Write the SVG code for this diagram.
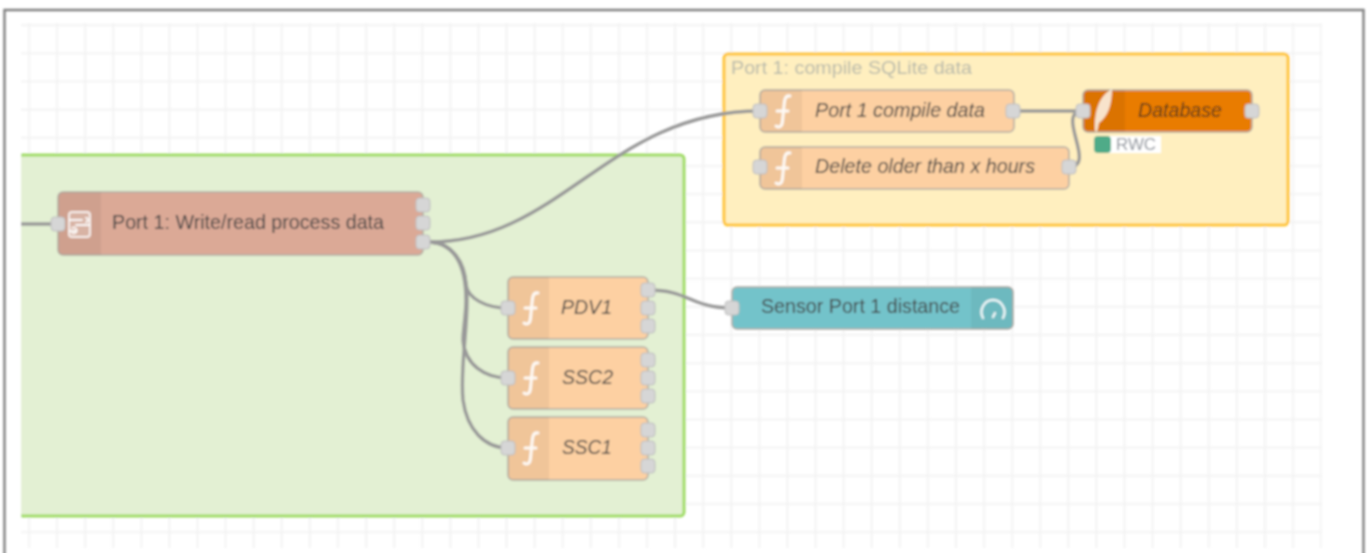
<svg xmlns="http://www.w3.org/2000/svg" width="1372" height="553" viewBox="0 0 1372 553">
<style>
.n{stroke:#b3aca4;stroke-width:1.5}
.h{fill:#000;fill-opacity:.05}
.p{fill:#d6d6d6;stroke:#bdbdbd;stroke-width:1}
.w{fill:none;stroke:#999;stroke-width:3.400}
.i{fill:none;stroke:#fff;stroke-opacity:.9;stroke-width:3;stroke-linecap:round}
text{font-family:"Liberation Sans",Arial,sans-serif;font-size:21px;fill:#444}
.f{font-style:italic}
</style>
<defs>
<pattern id="grid" patternUnits="userSpaceOnUse" x="15" y="11" width="28.09" height="28.17">
<path d="M14 0V28.17M0 14H28.09" stroke="#f3f3f3" stroke-width="2" fill="none"/>
</pattern>
<filter id="soft" filterUnits="userSpaceOnUse" x="0" y="0" width="1372" height="553"><feGaussianBlur stdDeviation="0.8"/></filter>
<path id="fn" d="M9 -15C4 -16 3.500 -11 3 -5L1.500 10C1 16 -2 17 -5 15M-4 0H7"/>
</defs>
<rect width="1372" height="553" fill="#fff"/>
<g filter="url(#soft)">
<path d="M4.500 560V10H1363.500V560" fill="none" stroke="#808080" stroke-width="2.400"/>
<rect x="21" y="23" width="1301" height="525" fill="url(#grid)"/>
<g id="group-green"><path d="M16 155H680a4 4 0 0 1 4 4V512a4 4 0 0 1-4 4H16Z" fill="#e3f0d3"/><path d="M21 155H680a4 4 0 0 1 4 4V512a4 4 0 0 1-4 4H21" fill="none" stroke="#9fdc62" stroke-width="3"/><rect x="12" y="150" width="9" height="372" fill="#fff"/></g>
<g id="group-yellow"><rect x="724" y="54" width="564" height="171" rx="4" fill="#ffefbf" stroke="#ffc433" stroke-width="3"/><text x="731" y="74" style="font-size:19px;fill:#b8b9aa" textLength="241" lengthAdjust="spacingAndGlyphs">Port 1: compile SQLite data</text></g>
<g id="connectors">
<path class="w" d="M21 224H58"/>
<path class="w" d="M430 242C560 242 610 111 760 111"/>
<path class="w" d="M430 242C452 243 465 262 466 285C468 298 485 308 508 308"/>
<path class="w" d="M430 242C452 243 466 262 466 300C466 315 463 330 463 340C465 365 485 378 508 378"/>
<path class="w" d="M430 242C452 243 467 262 467 300C467 335 460 370 463 400C467 430 485 448 508 448"/>
<path class="w" d="M648 290C690 290 690 308 732 308"/>
<path class="w" d="M1013 111H1083"/>
<path class="w" d="M1069 167C1098 167 1054 111 1083 111"/>
</g>
<g id="node-subflow"><rect class="n" x="58" y="192" width="365" height="63" rx="5" fill="#dba996"/><path class="h" d="M63 192H101V255H63a5 5 0 0 1-5-5V197a5 5 0 0 1 5-5Z"/><rect x="69" y="212" width="21" height="25" rx="3" fill="#fff" fill-opacity=".2" stroke="#fff" stroke-opacity=".8" stroke-width="2"/><path class="i" style="stroke-width:1.800" d="M70 220H82M86 218a2 2 0 1 1 0 4M76 225H89M70 231H76M72 228a3 3 0 1 1 0 5"/><text x="112" y="229" textLength="272" lengthAdjust="spacingAndGlyphs">Port 1: Write/read process data</text><rect class="p" x="51" y="217" width="14" height="14" rx="3.500"/><rect class="p" x="416" y="198" width="14" height="14" rx="3.500"/><rect class="p" x="416" y="216" width="14" height="14" rx="3.500"/><rect class="p" x="416" y="235" width="14" height="14" rx="3.500"/></g>
<g id="node-compile"><rect class="n" x="760" y="90" width="254" height="42" rx="5" fill="#fdd0a2"/><path class="h" d="M765 90H802V132H765a5 5 0 0 1-5-5V95a5 5 0 0 1 5-5Z"/><use href="#fn" class="i" x="781" y="111"/><text class="f" x="815" y="117" textLength="170" lengthAdjust="spacingAndGlyphs">Port 1 compile data</text><rect class="p" x="753" y="104" width="14" height="14" rx="3.500"/><rect class="p" x="1006" y="104" width="14" height="14" rx="3.500"/></g>
<g id="node-delete"><rect class="n" x="760" y="147" width="309" height="42" rx="5" fill="#fdd0a2"/><path class="h" d="M765 147H802V189H765a5 5 0 0 1-5-5V152a5 5 0 0 1 5-5Z"/><use href="#fn" class="i" x="781" y="168"/><text class="f" x="815" y="173" textLength="220" lengthAdjust="spacingAndGlyphs">Delete older than x hours</text><rect class="p" x="753" y="160" width="14" height="14" rx="3.500"/><rect class="p" x="1062" y="160" width="14" height="14" rx="3.500"/></g>
<g id="node-database"><rect class="n" x="1083" y="90" width="169" height="42" rx="5" fill="#e97b00"/><path class="h" d="M1088 90H1125V132H1088a5 5 0 0 1-5-5V95a5 5 0 0 1 5-5Z" style="fill-opacity:.06"/><path d="M1095 131C1094 110 1100 95 1112 89C1112 105 1108 116 1099 123L1097 132Z" fill="#fff" fill-opacity=".8"/><text class="f" x="1138" y="117" style="fill:#5a3a14" textLength="84" lengthAdjust="spacingAndGlyphs">Database</text><rect class="p" x="1076" y="104" width="14" height="14" rx="3.500"/><rect class="p" x="1245" y="104" width="14" height="14" rx="3.500"/><rect x="1108" y="136" width="53" height="17" fill="#fff"/><rect x="1094" y="136" width="17" height="17" rx="4" fill="#4fab88"/><text x="1116" y="150" style="font-size:16px;fill:#8a8f98" textLength="40" lengthAdjust="spacingAndGlyphs">RWC</text></g>
<g id="node-pdv1"><rect class="n" x="508" y="277" width="140" height="62" rx="5" fill="#fdd0a2"/><path class="h" d="M513 277H549V339H513a5 5 0 0 1-5-5V282a5 5 0 0 1 5-5Z"/><use href="#fn" class="i" x="529" y="308"/><text class="f" x="561" y="314" textLength="51" lengthAdjust="spacingAndGlyphs">PDV1</text><rect class="p" x="501" y="301" width="14" height="14" rx="3.500"/><rect class="p" x="641" y="283" width="14" height="14" rx="3.500"/><rect class="p" x="641" y="301" width="14" height="14" rx="3.500"/><rect class="p" x="641" y="319" width="14" height="14" rx="3.500"/></g>
<g id="node-ssc2"><rect class="n" x="508" y="347" width="140" height="62" rx="5" fill="#fdd0a2"/><path class="h" d="M513 347H549V409H513a5 5 0 0 1-5-5V352a5 5 0 0 1 5-5Z"/><use href="#fn" class="i" x="529" y="378"/><text class="f" x="562" y="384" textLength="51" lengthAdjust="spacingAndGlyphs">SSC2</text><rect class="p" x="501" y="371" width="14" height="14" rx="3.500"/><rect class="p" x="641" y="353" width="14" height="14" rx="3.500"/><rect class="p" x="641" y="371" width="14" height="14" rx="3.500"/><rect class="p" x="641" y="389" width="14" height="14" rx="3.500"/></g>
<g id="node-ssc1"><rect class="n" x="508" y="417" width="140" height="63" rx="5" fill="#fdd0a2"/><path class="h" d="M513 417H549V480H513a5 5 0 0 1-5-5V422a5 5 0 0 1 5-5Z"/><use href="#fn" class="i" x="529" y="448"/><text class="f" x="562" y="454" textLength="50" lengthAdjust="spacingAndGlyphs">SSC1</text><rect class="p" x="501" y="441" width="14" height="14" rx="3.500"/><rect class="p" x="641" y="423" width="14" height="14" rx="3.500"/><rect class="p" x="641" y="441" width="14" height="14" rx="3.500"/><rect class="p" x="641" y="459" width="14" height="14" rx="3.500"/></g>
<g id="node-sensor"><rect class="n" x="732" y="287" width="281" height="42" rx="5" fill="#73c3ca"/><path class="h" d="M971 287H1008a5 5 0 0 1 5 5V324a5 5 0 0 1-5 5H971Z"/><path class="i" style="stroke-width:2.400" d="M983 318A11.500 12 0 1 1 1003 318M993 317L995 313"/><text x="761" y="313" textLength="199" lengthAdjust="spacingAndGlyphs">Sensor Port 1 distance</text><rect class="p" x="725" y="301" width="14" height="14" rx="3.500"/></g>
</g>
</svg>
